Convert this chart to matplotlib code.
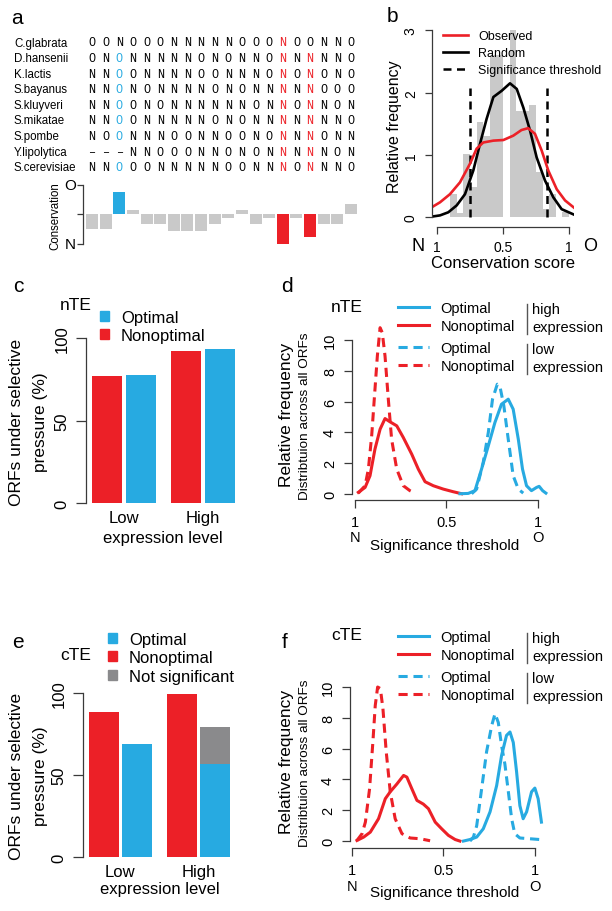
import numpy as np
import matplotlib
matplotlib.use("Agg")
import matplotlib.pyplot as plt
from matplotlib.patches import Patch
from matplotlib.lines import Line2D

plt.rcParams['font.family'] = ['Liberation Sans', 'DejaVu Sans']
plt.rcParams['axes.linewidth'] = 0.9

W, H = 612, 912

### >>>>>>>>>> data
species = ['C.glabrata', 'D.hansenii', 'K.lactis', 'S.bayanus', 'S.kluyveri',
           'S.mikatae', 'S.pombe', 'Y.lipolytica', 'S.cerevisiae']
alignment = ['OONOOONNNNNOOONOONNO',
             'ONONNNNNONONNONNNNNO',
             'NNOONNNNOONNNONONONO',
             'NNONONNNNONONNNNNOOO',
             'NNOONONNNNNNONNONNON',
             'NNOONNNNNONONNNNNNNO',
             'NOONNNOONNOONONNNONN',
             '---NNOOONNONONNNNNON',
             'NNOOONNNNNOONNNONNNO']
conservation = [-0.5, -0.5, 0.76, 0.13, -0.34, -0.34, -0.56, -0.56, -0.56, -0.34,
                -0.11, 0.13, -0.34, -0.11, -1.0, -0.11, -0.78, -0.34, -0.34, 0.36]
opt_cols = [3]
nonopt_cols = [15, 17]

# panel b
hist_left = [0.00, 0.05, 0.10, 0.15, 0.20, 0.25, 0.30, 0.35, 0.40, 0.45,
             0.50, 0.55, 0.60, 0.65, 0.70, 0.75, 0.80, 0.85, 0.90, 0.95]
hist_height = [0, 0, 0.37, 0.07, 1.02, 0.49, 1.53, 1.3, 2.6, 2.6,
               0, 3.0, 1.7, 1.7, 1.8, 0.72, 0.13, 0.37, 0, 0.08]
obs_x = [-0.04, 0.023, 0.098, 0.174, 0.25, 0.3, 0.35, 0.427, 0.503, 0.578,
         0.64, 0.69, 0.742, 0.793, 0.843, 0.907, 0.97, 1.04]
obs_y = [0.16, 0.24, 0.37, 0.56, 0.86, 1.1, 1.2, 1.23, 1.24, 1.31,
         1.4, 1.43, 1.34, 1.07, 0.75, 0.45, 0.27, 0.15]
rand_x = [-0.04, 0.023, 0.086, 0.149, 0.212, 0.275, 0.326, 0.376, 0.427, 0.49,
          0.553, 0.604, 0.654, 0.705, 0.755, 0.818, 0.881, 0.944, 1.04]
rand_y = [0.01, 0.03, 0.08, 0.19, 0.37, 0.75, 1.18, 1.58, 1.93, 2.03,
          2.15, 2.06, 1.76, 1.39, 0.96, 0.59, 0.32, 0.13, 0.04]
thresholds = [0.253, 0.833]
threshold_top = 2.08

# panels c / e
levels = ['Low', 'High']
nte_nonopt = [76.9, 91.9]
nte_opt = [77.7, 93.3]
cte_nonopt = [88.2, 99.6]
cte_opt = [69.2, 56.6]
cte_notsig = [0, 22.6]

# panel d (nTE)
d_opt_hi_x = [0.574, 0.619, 0.656, 0.692, 0.729, 0.765, 0.801, 0.838, 0.865, 0.893,
              0.916, 0.938, 0.965, 0.993, 1.007, 1.026, 1.044]
d_opt_hi_y = [0.02, 0.04, 0.22, 1.62, 3.13, 4.64, 5.83, 6.16, 5.51, 3.56,
              1.62, 0.54, 0.22, 0.43, 0.5, 0.22, 0.06]
d_non_hi_x = [0.018, 0.055, 0.082, 0.109, 0.137, 0.164, 0.191, 0.228, 0.264, 0.31,
              0.346, 0.383, 0.428, 0.483, 0.537, 0.583]
d_non_hi_y = [0.11, 0.43, 1.19, 2.92, 4.21, 4.9, 4.69, 4.43, 3.67, 2.59,
              1.62, 0.8, 0.54, 0.32, 0.15, 0.02]
d_opt_lo_x = [0.638, 0.665, 0.701, 0.729, 0.752, 0.778, 0.792, 0.814, 0.838, 0.865,
              0.893, 0.92]
d_opt_lo_y = [0.02, 0.32, 2.05, 4.0, 6.16, 7.13, 7.02, 5.72, 3.56, 1.19, 0.32, 0.06]
d_non_lo_x = [0.018, 0.055, 0.073, 0.091, 0.109, 0.122, 0.137, 0.149, 0.164, 0.182,
              0.2, 0.228, 0.264, 0.3, 0.328]
d_non_lo_y = [0.06, 0.54, 1.62, 3.78, 6.8, 8.96, 10.8, 10.48, 8.96, 6.16,
              3.56, 1.62, 0.54, 0.22, 0.06]

# panel f (cTE)
f_opt_hi_x = [0.609, 0.645, 0.682, 0.718, 0.755, 0.791, 0.818, 0.845, 0.864, 0.882,
              0.9, 0.918, 0.936, 0.955, 0.982, 1.0, 1.018, 1.036]
f_opt_hi_y = [0, 0.1, 0.26, 0.8, 1.9, 3.6, 5.56, 6.86, 7.08, 6.4,
              4.5, 2.3, 1.45, 1.9, 3.2, 3.44, 2.75, 1.23]
f_non_hi_x = [0.027, 0.064, 0.1, 0.145, 0.182, 0.209, 0.245, 0.282, 0.3, 0.327,
              0.355, 0.39, 0.418, 0.455, 0.49, 0.527, 0.564, 0.59]
f_non_hi_y = [0.04, 0.26, 0.58, 1.45, 2.75, 3.2, 3.7, 4.26, 4.15, 3.4,
              2.64, 2.4, 2.1, 1.23, 0.8, 0.37, 0.1, 0]
f_opt_lo_x = [0.645, 0.664, 0.682, 0.709, 0.736, 0.764, 0.782, 0.8, 0.818, 0.836,
              0.855, 0.873, 0.89, 0.918, 0.973, 1.027]
f_opt_lo_y = [0, 0.26, 1.0, 3.4, 5.8, 7.5, 8.27, 7.7, 6.2, 5.0,
              3.2, 1.45, 0.48, 0.2, 0.15, 0.1]
f_non_lo_x = [0.027, 0.055, 0.073, 0.096, 0.115, 0.127, 0.14, 0.155, 0.169, 0.187,
              0.209, 0.236, 0.273, 0.318, 0.373, 0.427]
f_non_lo_y = [0.04, 0.48, 1.23, 3.4, 6.6, 8.8, 10.0, 9.9, 8.6, 5.8,
              3.2, 1.45, 0.48, 0.2, 0.15, 0.02]

### >>>>>>>>>> styles
RED = '#ec2027'
BLUE = '#27aae1'
LGREY = '#c9c9c9'
DGREY = '#8a8a8c'
AXC = '#3a3a3a'

fig = plt.figure(figsize=(W / 100, H / 100), dpi=100)


def add_ax(l, t, r, b):
    ax = fig.add_axes([l / W, 1 - b / H, (r - l) / W, (b - t) / H])
    ax.patch.set_alpha(0)
    return ax


def ftext(x, y, s, **kw):
    kw.setdefault('ha', 'center')
    kw.setdefault('va', 'center')
    fig.text(x / W, 1 - y / H, s, **kw)


def rstyle(ax, xbounds=None, ybounds=None, fs=10.5):
    for s in ['top', 'right']:
        ax.spines[s].set_visible(False)
    for s in ['left', 'bottom']:
        ax.spines[s].set_color(AXC)
    if xbounds is None:
        ax.spines['bottom'].set_visible(False)
    else:
        ax.spines['bottom'].set_bounds(*xbounds)
    if ybounds is not None:
        ax.spines['left'].set_bounds(*ybounds)
    ax.tick_params(direction='out', length=5, width=0.9, color=AXC, labelsize=fs)
    ax.tick_params(axis='y', labelrotation=90)
    for lab in ax.get_yticklabels():
        lab.set_va('center')


### >>>>>>>>>> panel a
ax_a = add_ax(0, 30, 360, 178)
ax_a.set_xlim(1 - 92 / 13.63, 1 + (360 - 92) / 13.63)
ax_a.set_ylim(1 + (178 - 43.5) / 15.6, 1 - (43.5 - 30) / 15.6)
ax_a.axis('off')
for r, (name, seq) in enumerate(zip(species, alignment), start=1):
    ax_a.text(1 + (14 - 92) / 13.63, r, name, ha='left', va='center', fontsize=8.3)
    for c, ch in enumerate(seq, start=1):
        col = 'black'
        if c in opt_cols and ch == 'O':
            col = BLUE
        if c in nonopt_cols and ch == 'N':
            col = RED
        ax_a.text(c, r, ch.replace('-', '\u2013'), ha='center', va='center',
                  fontsize=8.5, color=col, family=['Liberation Mono', 'DejaVu Sans Mono'])

ax_cons = add_ax(83, 185.7, 360, 245)
ax_cons.set_xlim(1 - (92 - 83) / 13.63, 1 + (360 - 92) / 13.63)
ax_cons.set_ylim(-1, 1)
cols = np.arange(1, len(conservation) + 1)
bar_cols = [BLUE if c in opt_cols else RED if c in nonopt_cols else LGREY for c in cols]
ax_cons.bar(cols, conservation, width=0.88, color=bar_cols, clip_on=False)
ax_cons.set_xticks([])
ax_cons.set_yticks([-1, 0, 1])
ax_cons.set_yticklabels(['N', '', 'O'])
rstyle(ax_cons, None, (-1, 1), fs=11)
ax_cons.tick_params(axis='y', labelrotation=0, length=4, pad=1)
ftext(55, 216, 'Conservation', rotation=90, fontsize=8.3)
ftext(17, 19, 'a', fontsize=15)

### >>>>>>>>>> panel b
ax_b = add_ax(431.7, 23.9, 574.3, 227.6)
ax_b.set_xlim(-0.04, 1.04)
ax_b.set_ylim(-0.15, 3.12)
ax_b.bar(hist_left, hist_height, width=0.05, align='edge', color=LGREY, lw=0)
ax_b.vlines(thresholds, 0, threshold_top, colors='black', lw=1.8, linestyles=(0, (3.2, 2.2)))
ax_b.plot(rand_x, rand_y, color='black', lw=1.9, solid_joinstyle='round')
ax_b.plot(obs_x, obs_y, color=RED, lw=1.9, solid_joinstyle='round')
ax_b.set_xticks([0, 0.5, 1])
ax_b.set_xticklabels(['1', '0.5', '1'])
ax_b.set_yticks([0, 1, 2, 3])
rstyle(ax_b, (0, 1), (0, 3), fs=10)
ax_b.tick_params(pad=5)
leg_b = ax_b.legend(handles=[Line2D([], [], color=RED, lw=1.9),
                             Line2D([], [], color='black', lw=1.9),
                             Line2D([], [], color='black', lw=1.8, ls=(0, (3.2, 2.2)))],
                    labels=['Observed', 'Random', 'Significance threshold'],
                    loc='upper left', bbox_to_anchor=(443 / W, 1 - 31 / H),
                    bbox_transform=fig.transFigure, frameon=False, fontsize=9,
                    borderpad=0, borderaxespad=0, handlelength=2.0,
                    handletextpad=0.8, labelspacing=0.4)
ftext(395, 127, 'Relative frequency', rotation=90, fontsize=11.5)
ftext(503, 263, 'Conservation score', fontsize=12)
ftext(418, 247, 'N', fontsize=13)
ftext(590, 247, 'O', fontsize=13)
ftext(392, 17, 'b', fontsize=15)

### >>>>>>>>>> panels c / e
grp = np.array([0.7, 3.33])
off = 1.12


def bar_panel(ax, nonopt, opt, notsig=None):
    ax.set_xlim(0, 5)
    ax.set_ylim(0, 100)
    ax.bar(grp, nonopt, width=1.0, color=RED)
    ax.bar(grp + off, opt, width=1.0, color=BLUE)
    handles = [Patch(color=BLUE), Patch(color=RED)]
    labels = ['Optimal', 'Nonoptimal']
    if notsig is not None:
        ax.bar(grp + off, notsig, bottom=opt, width=1.0, color=DGREY)
        handles.append(Patch(color=DGREY))
        labels.append('Not significant')
    ax.set_yticks([0, 50, 100])
    ax.set_xticks(grp + off / 2)
    ax.set_xticklabels(levels)
    rstyle(ax, None, (0, 100), fs=12)
    ax.tick_params(axis='x', length=0, pad=5)
    ax.tick_params(axis='y', length=7, pad=5)
    return handles, labels


ax_c = add_ax(86, 339, 86 + 5 * 30, 504)
h, l = bar_panel(ax_c, nte_nonopt, nte_opt)
ax_c.legend(h, l, loc='upper left', bbox_to_anchor=(100 / W, 1 - 311 / H),
            bbox_transform=fig.transFigure, frameon=False, fontsize=12,
            borderpad=0, borderaxespad=0, handlelength=0.55, handleheight=0.55,
            handletextpad=0.7, labelspacing=0.2)
ftext(17, 422, 'ORFs under selective', rotation=90, fontsize=12.5)
ftext(40, 422, 'pressure (%)', rotation=90, fontsize=12.5)
ftext(163, 538, 'expression level', fontsize=12)
ftext(76, 306, 'nTE', fontsize=12.5)
ftext(18, 287, 'c', fontsize=15)

ax_e = add_ax(83, 694, 83 + 5 * 29.7, 858)
h, l = bar_panel(ax_e, cte_nonopt, cte_opt, cte_notsig)
ax_e.legend(h, l, loc='upper left', bbox_to_anchor=(108 / W, 1 - 633 / H),
            bbox_transform=fig.transFigure, frameon=False, fontsize=12,
            borderpad=0, borderaxespad=0, handlelength=0.55, handleheight=0.55,
            handletextpad=0.7, labelspacing=0.2)
ftext(17, 776, 'ORFs under selective', rotation=90, fontsize=12.5)
ftext(40, 776, 'pressure (%)', rotation=90, fontsize=12.5)
ftext(160, 890, 'expression level', fontsize=12)
ftext(76, 656, 'cTE', fontsize=12.5)
ftext(18, 642, 'e', fontsize=15)

### >>>>>>>>>> panels d / f
DASH = (0, (3.0, 1.9))


def dens_panel(ax, series, ytop_px, xleft_px, title, ylab_y, xlab_y, nlab_y):
    ax.set_ylim(ax.get_ylim())
    for xs, ys, col, ls in series:
        ax.plot(xs, ys, color=col, lw=2.2, ls=ls, dash_capstyle='butt',
                solid_joinstyle='round', clip_on=False)
    ax.set_xticks([0, 0.5, 1])
    ax.set_xticklabels(['1', '0.5', '1'])
    ax.set_yticks([0, 2, 4, 6, 8, 10])
    rstyle(ax, (0, 1), (0, 10), fs=10.5)
    ax.tick_params(length=6, pad=5)
    h1 = [Line2D([], [], color=BLUE, lw=2.2), Line2D([], [], color=RED, lw=2.2)]
    h2 = [Line2D([], [], color=BLUE, lw=2.2, ls=DASH), Line2D([], [], color=RED, lw=2.2, ls=DASH)]
    labs = ['Optimal', 'Nonoptimal']
    kw = dict(loc='upper left', bbox_transform=fig.transFigure, frameon=False,
              fontsize=10.5, borderpad=0, borderaxespad=0, handlelength=2.1,
              handletextpad=0.8, labelspacing=0.25)
    leg1 = ax.legend(h1, labs, bbox_to_anchor=(398 / W, 1 - (ytop_px - 8) / H), **kw)
    ax.add_artist(leg1)
    ax.legend(h2, labs, bbox_to_anchor=(398 / W, 1 - (ytop_px + 32) / H), **kw)
    for dy, word in [(0, 'high'), (40, 'low')]:
        y0 = ytop_px + dy
        fig.add_artist(Line2D([527 / W, 527 / W], [1 - (y0 - 5) / H, 1 - (y0 + 25) / H],
                              color='#555555', lw=1.0, transform=fig.transFigure))
        ftext(532, y0, word, ha='left', fontsize=10.5)
        ftext(532, y0 + 18, 'expression', ha='left', fontsize=10.5)
    ftext(347, ytop_px - 3, title, fontsize=12.5)
    ftext(286, ylab_y, 'Relative frequency', rotation=90, fontsize=12.5)
    ftext(305, ylab_y + 1, 'Distribtuion across all ORFs', rotation=90, fontsize=9.7)
    ftext(445, xlab_y, 'Significance threshold', fontsize=11)
    ftext(xleft_px, nlab_y, 'N', fontsize=10.5)
    ftext(xleft_px + 183, nlab_y, 'O', fontsize=10.5)


ax_d = add_ax(352.3, 321, 547, 501.2)
ax_d.set_xlim(-0.015, 1.05)
ax_d.set_ylim(-0.4, 11.3)
dens_panel(ax_d, [(d_non_lo_x, d_non_lo_y, RED, DASH),
                  (d_opt_lo_x, d_opt_lo_y, BLUE, DASH),
                  (d_non_hi_x, d_non_hi_y, RED, '-'),
                  (d_opt_hi_x, d_opt_hi_y, BLUE, '-')],
           310, 355, 'nTE', 415, 546, 538)
ftext(287, 287, 'd', fontsize=15)

ax_f = add_ax(350.2, 668, 544, 849)
ax_f.set_xlim(-0.01, 1.05)
ax_f.set_ylim(-0.45, 11.3)
dens_panel(ax_f, [(f_non_lo_x, f_non_lo_y, RED, DASH),
                  (f_opt_lo_x, f_opt_lo_y, BLUE, DASH),
                  (f_non_hi_x, f_non_hi_y, RED, '-'),
                  (f_opt_hi_x, f_opt_hi_y, BLUE, '-')],
           639, 352, 'cTE', 762, 893, 887)
ftext(285, 642, 'f', fontsize=15)

fig.savefig('out.png', dpi=100)
